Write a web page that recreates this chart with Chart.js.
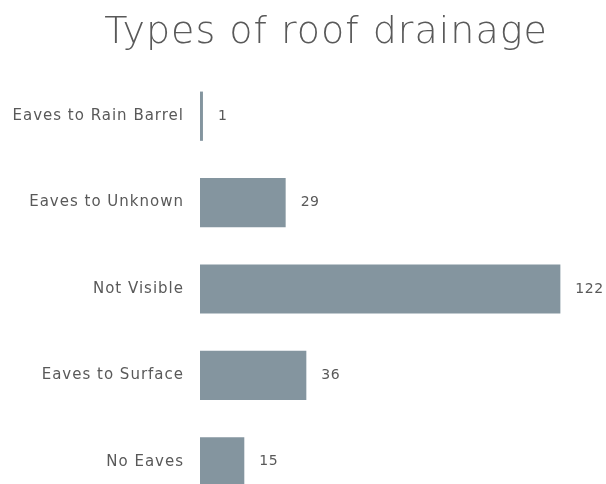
<!DOCTYPE html>
<html>
<head>
<meta charset="utf-8">
<script src="https://cdn.jsdelivr.net/npm/chart.js@4"></script>
<style>
  html, body { margin: 0; padding: 0; background: #fff; overflow: hidden; }
  #wrap { width: 606px; height: 484px; overflow: hidden; position: relative; }
  #box { width: 606px; height: 523px; position: absolute; left: 0; top: 0; }
</style>
</head>
<body>
<div id="wrap"><div id="box"><canvas id="chart"></canvas></div></div>
<script>
// ---- data ----
const categories = ['Eaves to Rain Barrel', 'Eaves to Unknown', 'Not Visible', 'Eaves to Surface', 'No Eaves'];
const counts = [1, 29, 122, 36, 15];
const chartTitle = 'Types of roof drainage';

const FONT = "'DejaVu Sans', sans-serif";
const TEXT = '#595959';

// wide letter spacing for the axis text (the original uses a wide geometric face)
const spacing = {
    id: 'spacing',
    beforeDraw(chart) { chart.ctx.letterSpacing = '1px'; },
    afterDraw(chart) { chart.ctx.letterSpacing = '0px'; }
};

// title drawn a little right of centre, as in the original
const titleText = {
    id: 'titleText',
    afterDraw(chart) {
        const ctx = chart.ctx;
        ctx.save();
        ctx.letterSpacing = '1px';
        ctx.font = '300 38px ' + FONT;
        ctx.fillStyle = TEXT;
        ctx.textAlign = 'center';
        ctx.textBaseline = 'alphabetic';
        ctx.fillText(chartTitle, chart.width / 2 + 23, 43);
        ctx.restore();
    }
};

// draws the value right after the end of each bar
const valueLabels = {
    id: 'valueLabels',
    afterDatasetsDraw(chart) {
        const ctx = chart.ctx;
        const meta = chart.getDatasetMeta(0);
        ctx.save();
        ctx.letterSpacing = '0.5px';
        ctx.font = '14px ' + FONT;
        ctx.fillStyle = TEXT;
        ctx.textAlign = 'left';
        ctx.textBaseline = 'middle';
        meta.data.forEach((bar, i) => {
            ctx.fillText(String(counts[i]), bar.x + 15, bar.y);
        });
        ctx.restore();
    }
};

new Chart(document.getElementById('chart'), {
    type: 'bar',
    data: {
        labels: categories,
        datasets: [{
            data: counts,
            backgroundColor: '#84959f',
            categoryPercentage: 1,
            barPercentage: 0.57
        }]
    },
    plugins: [spacing, valueLabels, titleText],
    options: {
        indexAxis: 'y',
        responsive: true,
        maintainAspectRatio: false,
        animation: false,
        layout: { padding: { left: 0, right: 22, top: 73, bottom: 18 } },
        plugins: {
            legend: { display: false },
            tooltip: { enabled: false },
            title: { display: false }
        },
        scales: {
            x: {
                min: 0,
                max: 130,
                display: false
            },
            y: {
                grid: { display: false },
                border: { display: false },
                ticks: {
                    color: TEXT,
                    padding: 8,
                    font: { family: FONT, size: 15 }
                },
                afterFit(scale) { scale.width = 200; }
            }
        }
    }
});
</script>
</body>
</html>
